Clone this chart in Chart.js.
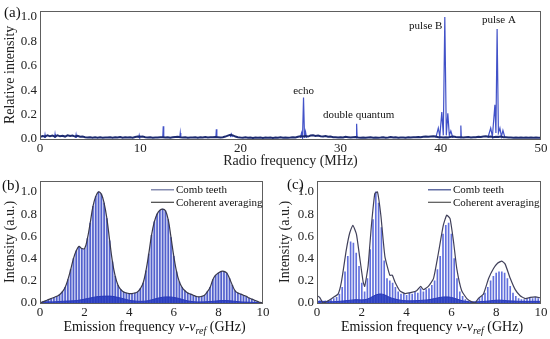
<!DOCTYPE html>
<html>
<head>
<meta charset="utf-8">
<script src="https://cdn.jsdelivr.net/npm/chart.js@4.4.0/dist/chart.umd.min.js"></script>
<style>
body { margin: 0; background: #fff; }
.panel { position: absolute; }
canvas { display: block; }
</style>
</head>
<body>
<div class="panel" style="left:0px;top:0px"><canvas id="chartA" width="550" height="170"></canvas></div>
<div class="panel" style="left:0px;top:170px"><canvas id="chartB" width="275" height="169"></canvas></div>
<div class="panel" style="left:275px;top:170px"><canvas id="chartC" width="275" height="169"></canvas></div>
<script>
const SERIF = "'Liberation Serif', 'Times New Roman', serif";
Chart.defaults.font.family = SERIF;
Chart.defaults.color = '#222';

// ---- (a) radio frequency spectrum ----
const rfStep = 0.25; // MHz between baseline samples
const rfNoise = [
  .015,.025,.02,.03,.022,.028,.02,.03,.022,.026,
  .02,.03,.024,.028,.02,.026,.018,.02,.015,.012,
  .015,.01,.014,.011,.015,.01,.013,.012,.015,.01,
  .014,.012,.016,.01,.014,.012,.015,.011,.016,.02,
  .018,.02,.015,.012,.014,.01,.013,.012,.015,.014,
  .012,.015,.01,.014,.016,.018,.014,.012,.015,.01,
  .013,.012,.015,.01,.014,.012,.016,.012,.014,.015,
  .016,.014,.012,.015,.02,.028,.034,.03,.02,.015,
  .012,.01,.014,.01,.012,.008,.012,.01,.013,.009,
  .012,.01,.013,.009,.012,.01,.014,.01,.012,.011,
  .012,.015,.012,.018,.022,.02,.025,.02,.028,.03,
  .025,.028,.022,.02,.025,.018,.02,.015,.014,.012,
  .014,.012,.018,.015,.012,.014,.016,.012,.011,.013,
  .01,.012,.014,.011,.013,.01,.012,.015,.011,.013,
  .016,.012,.014,.011,.012,.013,.01,.014,.012,.015,
  .014,.016,.015,.018,.02,.018,.02,.022,.02,.015,
  .015,.012,.015,.012,.018,.02,.016,.014,.015,.012,
  .014,.016,.013,.015,.014,.018,.016,.02,.022,.018,
  .02,.015,.018,.016,.02,.015,.014,.012,.013,.011,
  .012,.01,.013,.011,.012,.01,.013,.011,.012,.01,
  .01
];
// narrow lines, null breaks the trace between groups
const spikeX = [0.45,0.5,0.55,null, 1.45,1.5,1.55,null, 3.55,3.6,3.65,null, 9.85,9.9,9.95,null,
  12.25,12.3,12.35,null, 13.95,14.0,14.05,null, 17.55,17.6,17.65,null, 19.0,19.1,19.2,null,
  26.0,26.1,26.2,26.3,26.4,26.5,26.6,null, 31.55,31.6,31.65,null,
  39.5,39.75,39.9,40.1,40.25,40.4,40.55,40.7,40.85,41.0,41.2,null, 41.95,42.0,42.05,null,
  44.7,44.98,45.15,45.4,45.5,45.62,45.75,45.9,46.05,46.2,46.4];
const spikeY = [.01,.035,.01,null, .01,.04,.01,null, .01,.035,.01,null, .01,.03,.01,null,
  .01,.105,.01,null, .01,.05,.01,null, .01,.08,.01,null, .015,.04,.015,null,
  .01,.05,.01,.34,.01,.06,.01,null, .01,.125,.01,null,
  .01,.09,.02,.22,.03,1.0,.03,.21,.03,.065,.01,null, .01,.11,.01,null,
  .01,.09,.02,.28,.05,.9,.05,.09,.02,.07,.01];
const rfTicks = [0, 10, 20, 30, 40, 50];
const rfNotes = ['echo', 'double quantum', 'pulse B', 'pulse A'];
const rfNoteX = [26.3, 31.8, 38.5, 45.8];
const rfNoteY = [0.39, 0.195, 0.925, 0.97];

// ---- (b), (c) comb spectra, teeth every 0.125 GHz ----
const combStep = 0.125;
const floorStep = 0.25;
const bTeeth = [
  0.00,0.01,0.02,0.03,0.04,0.05,0.06,0.075,
  0.10,0.14,0.21,0.30,0.40,0.47,0.51,0.49,
  0.49,0.58,0.72,0.87,0.96,1.00,0.98,0.90,
  0.76,0.56,0.37,0.24,0.16,0.12,0.10,0.09,
  0.085,0.085,0.09,0.10,0.13,0.18,0.29,0.44,
  0.61,0.73,0.80,0.835,0.845,0.83,0.75,0.59,
  0.42,0.28,0.19,0.14,0.11,0.09,0.08,0.07,
  0.06,0.055,0.06,0.07,0.10,0.14,0.21,0.25,
  0.27,0.285,0.285,0.27,0.22,0.16,0.11,0.09,
  0.08,0.07,0.06,0.045,0.035,0.025,0.015,0.005,
  0.00
];
const bFloor = [.005,.01,.01,.012,.015,.018,.02,.025,.035,.045,.055,.06,.062,.06,.05,.038,.025,.018,.015,.018,
  .028,.042,.052,.055,.05,.04,.025,.015,.01,.01,.012,.015,.02,.022,.02,.015,.01,.008,.006,.004,.002];
const cTeeth = [
  0.03,0.02,0.01,0.02,0.02,0.03,0.04,0.05,
  0.08,0.14,0.28,0.42,0.55,0.54,0.45,0.33,
  0.18,0.10,0.22,0.48,0.75,1.00,0.90,0.68,
  0.38,0.22,0.20,0.18,0.14,0.10,0.08,0.08,
  0.07,0.09,0.08,0.10,0.09,0.13,0.10,0.12,
  0.13,0.16,0.20,0.30,0.42,0.62,0.70,0.72,
  0.62,0.40,0.22,0.10,0.06,0.03,0.02,0.01,
  0.01,0.02,0.04,0.06,0.09,0.14,0.20,0.24,
  0.27,0.28,0.28,0.27,0.22,0.15,0.09,0.06,
  0.04,0.03,0.03,0.04,0.05,0.04,0.05,0.04,
  0.03
];
const cEnvX = [0,0.12,0.27,0.5,0.72,0.94,1.09,1.31,1.46,1.6,1.76,1.9,2.06,2.13,2.28,2.43,2.58,2.7,2.85,3.03,
  3.25,3.36,3.48,3.7,3.93,4.22,4.45,4.63,4.75,4.97,5.2,5.42,5.64,5.79,5.94,6.09,6.24,6.46,6.69,6.91,
  7.06,7.2,7.43,7.66,7.88,8.07,8.25,8.4,8.63,8.85,9.07,9.3,9.52,9.75,10];
const cEnvY = [.065,.05,0,.02,.05,.08,.19,.48,.63,.70,.62,.42,.19,.15,.33,.70,.985,1.0,.79,.42,
  .25,.25,.19,.11,.085,.095,.11,.15,.12,.15,.22,.45,.70,.79,.76,.56,.31,.11,.04,.01,
  0,.04,.08,.22,.31,.36,.377,.35,.22,.12,.065,.04,.05,.055,.045];
const cFloor = [.015,.015,.012,.012,.015,.02,.025,.03,.028,.035,.06,.08,.075,.05,.035,.025,.02,.02,.022,.025,
  .03,.04,.05,.055,.05,.035,.02,.012,.01,.012,.015,.02,.025,.025,.02,.018,.015,.015,.015,.015,.015];
const ghzTicks = [0, 2, 4, 6, 8, 10];
const intTicks = [0, 0.2, 0.4, 0.6, 0.8, 1.0];
const seriesNames = ['Comb teeth', 'Coherent averaging'];

function onGrid(vals, step) {
  return vals.map((v, i) => ({ x: i * step, y: v }));
}
function pairs(xs, ys) {
  return xs.map((x, i) => ({ x: x, y: x === null ? null : ys[i] }));
}

const framePlugin = {
  id: 'frame',
  afterDatasetsDraw(chart) {
    const a = chart.chartArea, ctx = chart.ctx;
    ctx.save();
    ctx.strokeStyle = '#5e5e5e';
    ctx.lineWidth = 1;
    ctx.strokeRect(Math.round(a.left) + 0.5, Math.round(a.top) + 0.5,
      Math.round(a.right - a.left) - 1, Math.round(a.bottom - a.top));
    ctx.restore();
  }
};

function panelLabel(text, x, y) {
  return {
    id: 'panelLabel',
    afterDraw(chart) {
      const ctx = chart.ctx;
      ctx.save();
      ctx.font = '15px ' + SERIF;
      ctx.fillStyle = '#111';
      ctx.textBaseline = 'middle';
      ctx.fillText(text, x, y);
      ctx.restore();
    }
  };
}

const notesPlugin = {
  id: 'notes',
  afterDraw(chart) {
    const ctx = chart.ctx, xs = chart.scales.x, ys = chart.scales.y;
    ctx.save();
    ctx.font = '11px ' + SERIF;
    ctx.fillStyle = '#111';
    ctx.textAlign = 'center';
    ctx.textBaseline = 'middle';
    rfNotes.forEach((t, i) => {
      ctx.fillText(t, xs.getPixelForValue(rfNoteX[i]), ys.getPixelForValue(rfNoteY[i]));
    });
    ctx.restore();
  }
};

// two-row legend in the top right of the plot, plus the x title with italic subscript
function combDecor(legendColors) {
  return {
    id: 'combDecor',
    afterDraw(chart) {
      const ctx = chart.ctx, a = chart.chartArea;
      ctx.save();
      ctx.font = '11px ' + SERIF;
      ctx.fillStyle = '#111';
      ctx.textBaseline = 'middle';
      const lx = a.left + 111;
      seriesNames.forEach((name, i) => {
        const y = a.top + 9 + i * 12.5;
        ctx.strokeStyle = legendColors[i];
        ctx.lineWidth = 1.2;
        ctx.beginPath();
        ctx.moveTo(lx, y);
        ctx.lineTo(lx + 23, y);
        ctx.stroke();
        ctx.fillText(name, lx + 25, y + 0.5);
      });
      const parts = [
        { t: 'Emission frequency ', f: '14px ' + SERIF, dy: 0 },
        { t: 'ν-ν', f: 'italic 14px ' + SERIF, dy: 0 },
        { t: 'ref', f: 'italic 10px ' + SERIF, dy: 3 },
        { t: ' (GHz)', f: '14px ' + SERIF, dy: 0 }
      ];
      let w = 0;
      parts.forEach(p => { ctx.font = p.f; w += ctx.measureText(p.t).width; });
      let x = (a.left + a.right) / 2 - w / 2 + 3;
      const y = chart.height - 13;
      ctx.textBaseline = 'alphabetic';
      parts.forEach(p => {
        ctx.font = p.f;
        ctx.fillText(p.t, x, y + 5 + p.dy);
        x += ctx.measureText(p.t).width;
      });
      ctx.restore();
    }
  };
}

function yScale(max, width, title) {
  return {
    type: 'linear', min: 0, max: max,
    afterBuildTicks: s => { s.ticks = intTicks.map(v => ({ value: v })); },
    afterFit: s => { s.width = width; },
    ticks: { font: { size: 13 }, padding: 3, color: '#222', callback: v => v.toFixed(1) },
    grid: { display: false, drawTicks: false },
    border: { display: false },
    title: { display: true, text: title, font: { size: 14 }, color: '#222', padding: { top: 2, bottom: 0 } }
  };
}

function xScale(max, ticks, height, title) {
  return {
    type: 'linear', min: 0, max: max, offset: false,
    afterBuildTicks: s => { s.ticks = ticks.map(v => ({ value: v })); },
    afterFit: s => { s.height = height; },
    ticks: { font: { size: 13 }, padding: 2, color: '#222', maxRotation: 0 },
    grid: { display: false, drawTicks: false },
    border: { display: false },
    title: { display: !!title, text: title, font: { size: 14 }, color: '#222', padding: { top: 0, bottom: 0 } }
  };
}

new Chart(document.getElementById('chartA'), {
  type: 'line',
  data: {
    datasets: [
      { data: onGrid(rfNoise, rfStep), borderColor: '#1c2a70', borderWidth: 2, pointRadius: 0, tension: 0 },
      { data: pairs(spikeX, spikeY), borderColor: '#4252c8', borderWidth: 1.2, pointRadius: 0, tension: 0, spanGaps: false }
    ]
  },
  options: {
    responsive: false, animation: false,
    layout: { padding: { top: 9, right: 9, left: 0, bottom: 0 } },
    plugins: { legend: { display: false }, tooltip: { enabled: false } },
    scales: {
      x: xScale(50, rfTicks, 31, 'Radio frequency (MHz)'),
      y: yScale(1.05, 40, 'Relative intensity')
    }
  },
  plugins: [framePlugin, notesPlugin, panelLabel('(a)', 4, 13)]
});

new Chart(document.getElementById('chartB'), {
  type: 'bar',
  data: {
    datasets: [
      { type: 'line', label: seriesNames[1], data: onGrid(bTeeth, combStep), borderColor: '#3a3a4c', borderWidth: 1.2,
        pointRadius: 0, tension: 0.4, order: 0 },
      { type: 'line', data: onGrid(bFloor, floorStep), borderColor: '#2a3ab8', borderWidth: 1, backgroundColor: 'rgba(35,55,190,0.85)',
        fill: 'origin', pointRadius: 0, tension: 0.4, order: 1 },
      { type: 'bar', label: seriesNames[0], data: onGrid(bTeeth, combStep), backgroundColor: '#5260cc',
        barThickness: 1, grouped: false, order: 2 },
      { type: 'line', data: onGrid(bTeeth, combStep), borderWidth: 0, backgroundColor: 'rgba(120,130,225,0.25)',
        fill: 'origin', pointRadius: 0, tension: 0.4, order: 3 }
    ]
  },
  options: {
    responsive: false, animation: false,
    layout: { padding: { top: 3, right: 12, left: 0, bottom: 0 } },
    plugins: { legend: { display: false }, tooltip: { enabled: false } },
    scales: {
      x: xScale(10, ghzTicks, 36, ''),
      y: yScale(1.1, 40, 'Intensity (a.u.)')
    }
  },
  plugins: [framePlugin, combDecor(['#68709e', '#444']), panelLabel('(b)', 2, 16)]
});

new Chart(document.getElementById('chartC'), {
  type: 'bar',
  data: {
    datasets: [
      { type: 'line', label: seriesNames[1], data: pairs(cEnvX, cEnvY), borderColor: '#40405a', borderWidth: 1.2,
        pointRadius: 0, tension: 0.15, order: 0 },
      { type: 'line', data: onGrid(cFloor, floorStep), borderColor: '#2a3ab8', borderWidth: 1, backgroundColor: 'rgba(35,55,190,0.85)',
        fill: 'origin', pointRadius: 0, tension: 0.4, order: 1 },
      { type: 'bar', label: seriesNames[0], data: onGrid(cTeeth, combStep), backgroundColor: '#6270dc',
        barThickness: 1, grouped: false, order: 2 }
    ]
  },
  options: {
    responsive: false, animation: false,
    layout: { padding: { top: 3, right: 9, left: 0, bottom: 0 } },
    plugins: { legend: { display: false }, tooltip: { enabled: false } },
    scales: {
      x: xScale(10, ghzTicks, 36, ''),
      y: yScale(1.1, 42, 'Intensity (a.u.)')
    }
  },
  plugins: [framePlugin, combDecor(['#3c4a8e', '#555']), panelLabel('(c)', 12, 15)]
});
</script>
</body>
</html>
